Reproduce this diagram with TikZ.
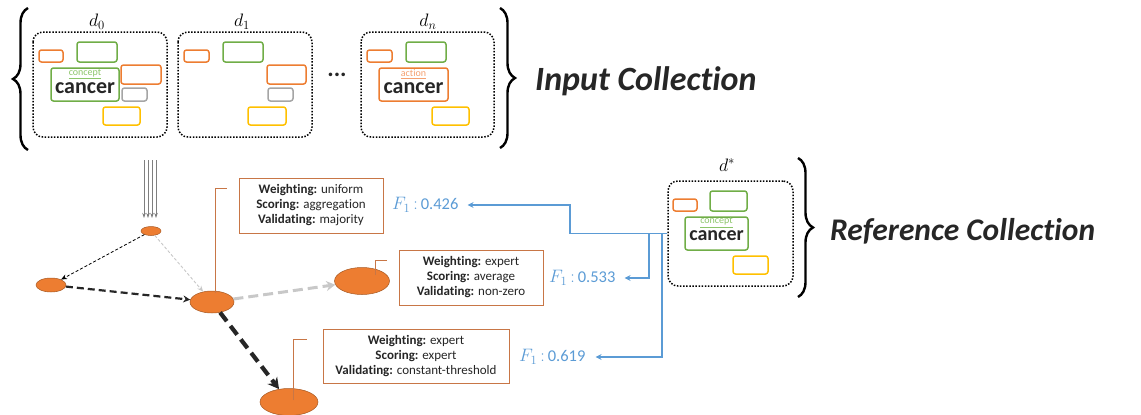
\RequirePackage{fix-cm}
\documentclass[tikz,border=0pt]{standalone}
\usepackage{fontspec}
\setmainfont{Carlito}[Ligatures=NoCommon]
\usetikzlibrary{shapes.geometric,arrows.meta,decorations.pathreplacing}
\definecolor{corange}{HTML}{ED7D31}
\definecolor{cgreen}{HTML}{70AD47}
\definecolor{cgray}{HTML}{A5A5A5}
\definecolor{cyellow}{HTML}{FFC000}
\definecolor{lgreen}{HTML}{8CC56A}
\definecolor{lorange}{HTML}{F4A070}
\definecolor{boxbrown}{RGB}{200,118,70}
\definecolor{cblue}{HTML}{5B9BD5}
\definecolor{textdark}{HTML}{262626}
\definecolor{lightedge}{HTML}{C8C8C8}
\definecolor{pipe}{HTML}{7F7F7F}
\newcommand{\fscore}[1]{{\fontsize{18}{18}\selectfont$F_1\,{:}\,$}#1}
\begin{document}
\begin{tikzpicture}[x=1pt,y=-1pt,
  docbox/.style={draw=black,line width=1.5pt,dash pattern=on 1.5pt off 1.6pt,rounded corners=10pt},
  ibox/.style={line width=1.5pt,rounded corners=2.5pt},
  bigbrace/.style={decorate,decoration={brace,amplitude=15pt},line width=2.4pt,draw=black},
  dlabel/.style={font=\fontsize{18}{18}\selectfont,inner sep=0},
  title/.style={font=\fontsize{34}{34}\selectfont\bfseries\itshape,text=textdark,inner sep=0,anchor=base west},
  word/.style={font=\fontsize{22}{22}\selectfont\bfseries,text=textdark,inner sep=0},
  tag/.style={font=\fontsize{10}{10}\selectfont,inner sep=0},
  enode/.style={ellipse,fill=corange,draw=corange!70!black,line width=0.5pt,inner sep=0},
  cbox/.style={draw=boxbrown,line width=0.9pt,fill=white,align=center,
    font=\fontsize{13}{15}\selectfont,text=textdark,inner sep=0},
  cline/.style={draw=boxbrown,line width=0.9pt},
  fone/.style={font=\fontsize{16.5}{16.5}\selectfont,text=cblue,inner sep=0,anchor=west},
  bluearrow/.style={draw=cblue,line width=1.8pt,-{Stealth[length=6pt,width=6pt]}},
  pipearrow/.style={draw=pipe,line width=0.7pt,-{Stealth[length=5pt,width=3.5pt]}}
]
\useasboundingbox (0,0) rectangle (1141,415);

% ---------------- input collection ----------------
\draw[bigbrace] (28,150) -- (28,8);
\draw[bigbrace] (500,8) -- (500,148);

% document d_0
\node[dlabel] at (97,22) {$d_0$};
\draw[docbox] (33,32) rectangle (167,137);
\draw[ibox,draw=corange] (39,50) rectangle (63,62);
\draw[ibox,draw=cgreen] (77,42) rectangle (117,62);
\draw[ibox,draw=cgreen] (51,68) rectangle (119,101);
\node[tag,text=lgreen] at (85,74) {\underline{concept}};
\node[word] at (85,88) {cancer};
\draw[ibox,draw=corange] (121,65) rectangle (161,84);
\draw[ibox,draw=cgray] (122,88) rectangle (147,101);
\draw[ibox,draw=cyellow] (103,107) rectangle (140,125);

% document d_1
\node[dlabel] at (242,22) {$d_1$};
\draw[docbox] (178,32) rectangle (312,137);
\draw[ibox,draw=corange] (184,50) rectangle (209,62);
\draw[ibox,draw=cgreen] (223,42) rectangle (263,62);
\draw[ibox,draw=corange] (267,65) rectangle (306,84);
\draw[ibox,draw=cgray] (268,88) rectangle (293,101);
\draw[ibox,draw=cyellow] (248,107) rectangle (286,125);

\node[font=\fontsize{24}{24}\selectfont\bfseries,text=textdark,inner sep=0] (dots) at (337,75) {...};

% document d_n
\node[dlabel] at (428,22) {$d_n$};
\draw[docbox] (361,32) rectangle (494,137);
\draw[ibox,draw=corange] (367,50) rectangle (392,62);
\draw[ibox,draw=cgreen] (406,42) rectangle (446,62);
\draw[ibox,draw=corange] (379,68) rectangle (448,101);
\node[tag,text=lorange] at (413.5,74) {\underline{action}};
\node[word] at (413.5,88) {cancer};
\draw[ibox,draw=cyellow] (432,107) rectangle (469,125);

\node[title] (incoll) at (535,90) {Input Collection};

% ---------------- reference collection ----------------
\node[dlabel] at (727,165) {$d^{*}$};
\node[docbox,minimum width=125pt,minimum height=105pt,inner sep=0] (dstar) at (730.5,233.5) {};
\draw[ibox,draw=corange] (673,199) rectangle (697,211);
\draw[ibox,draw=cgreen] (710,191) rectangle (747,211);
\draw[ibox,draw=cgreen] (685,217) rectangle (748,250);
\node[tag,text=lgreen] at (716.5,222.5) {\underline{concept}};
\node[word,font=\fontsize{20}{20}\selectfont\bfseries] at (716.5,236) {cancer};
\draw[ibox,draw=cyellow] (733,256) rectangle (768,274);
\draw[bigbrace] (798,158) -- (798,297);
\node[title,font=\fontsize{31.5}{31.5}\selectfont\bfseries\itshape] (refcoll) at (830,240) {Reference Collection};

% ---------------- search graph ----------------
\node[enode,minimum width=20pt,minimum height=9pt] (top) at (151,231) {};
\node[enode,minimum width=30pt,minimum height=14pt] (left) at (51,285) {};
\node[enode,minimum width=44pt,minimum height=22pt] (mid) at (212,302) {};
\node[enode,minimum width=55pt,minimum height=27pt] (right) at (362,281) {};
\node[enode,minimum width=58pt,minimum height=27pt] (bot) at (289,402) {};

% incoming documents
\foreach \i/\x in {1/144,2/148,3/152,4/156}{
  \coordinate (pin\i) at (\x,160);
  \coordinate (pout\i) at (\x,218);
  \draw[pipearrow] (pin\i) -- (pout\i);
}

\draw[black,line width=0.8pt,dash pattern=on 3pt off 2pt,-{Stealth[length=6pt,width=5pt]}] (top) -- (left);
\draw[lightedge,line width=0.9pt,dash pattern=on 3pt off 2pt,-{Stealth[length=6pt,width=5pt]}] (top) -- (mid);
\draw[black!85,line width=2.2pt,dash pattern=on 7pt off 4pt,-{Stealth[length=7pt,width=7pt]}] (left) -- (mid);
\draw[lightedge,line width=3pt,dash pattern=on 10pt off 5pt,-{Stealth[length=9pt,width=10pt]}] (mid) -- (right);
\draw[black!85,line width=4.2pt,dash pattern=on 11pt off 6pt,-{Stealth[length=11pt,width=12pt]}] (mid) -- (bot);

% configuration call-outs
\node[cbox,minimum width=144pt,minimum height=55pt] (cfga) at (311,205.5)
  {\textbf{Weighting:} uniform\\\textbf{Scoring:} aggregation\\\textbf{Validating:} majority};
\node[cbox,minimum width=144pt,minimum height=55pt] (cfgb) at (471,277.5)
  {\textbf{Weighting:} expert\\\textbf{Scoring:} average\\\textbf{Validating:} non-zero};
\node[cbox,minimum width=186pt,minimum height=54pt] (cfgc) at (416,356)
  {\textbf{Weighting:} expert\\\textbf{Scoring:} expert\\\textbf{Validating:} constant-threshold};

\coordinate (ma) at (215,293);  \coordinate (ta) at (227,188);
\coordinate (mb) at (375,275);  \coordinate (tb) at (387,260);
\coordinate (mc) at (293,400);  \coordinate (tc) at (307,339);
\draw[cline] (ma) |- (ta);
\draw[cline] (mb) |- (tb);
\draw[cline] (mc) |- (tc);

% scores against the reference
\node[fone] (fa) at (392,205) {\fscore{0.426}};
\node[fone] (fb) at (549,278) {\fscore{0.533}};
\node[fone] (fc) at (519,357) {\fscore{0.619}};

\coordinate (ja) at (570,233.5);
\coordinate (jb) at (649,233.5);
\coordinate (jc) at (662,233.5);
\draw[bluearrow] (dstar.west) -- (ja) |- ([xshift=9pt]fa.east);
\draw[bluearrow] (jb) |- ([xshift=9pt]fb.east);
\draw[bluearrow] (jc) |- ([xshift=10pt]fc.east);
\end{tikzpicture}
\end{document}
